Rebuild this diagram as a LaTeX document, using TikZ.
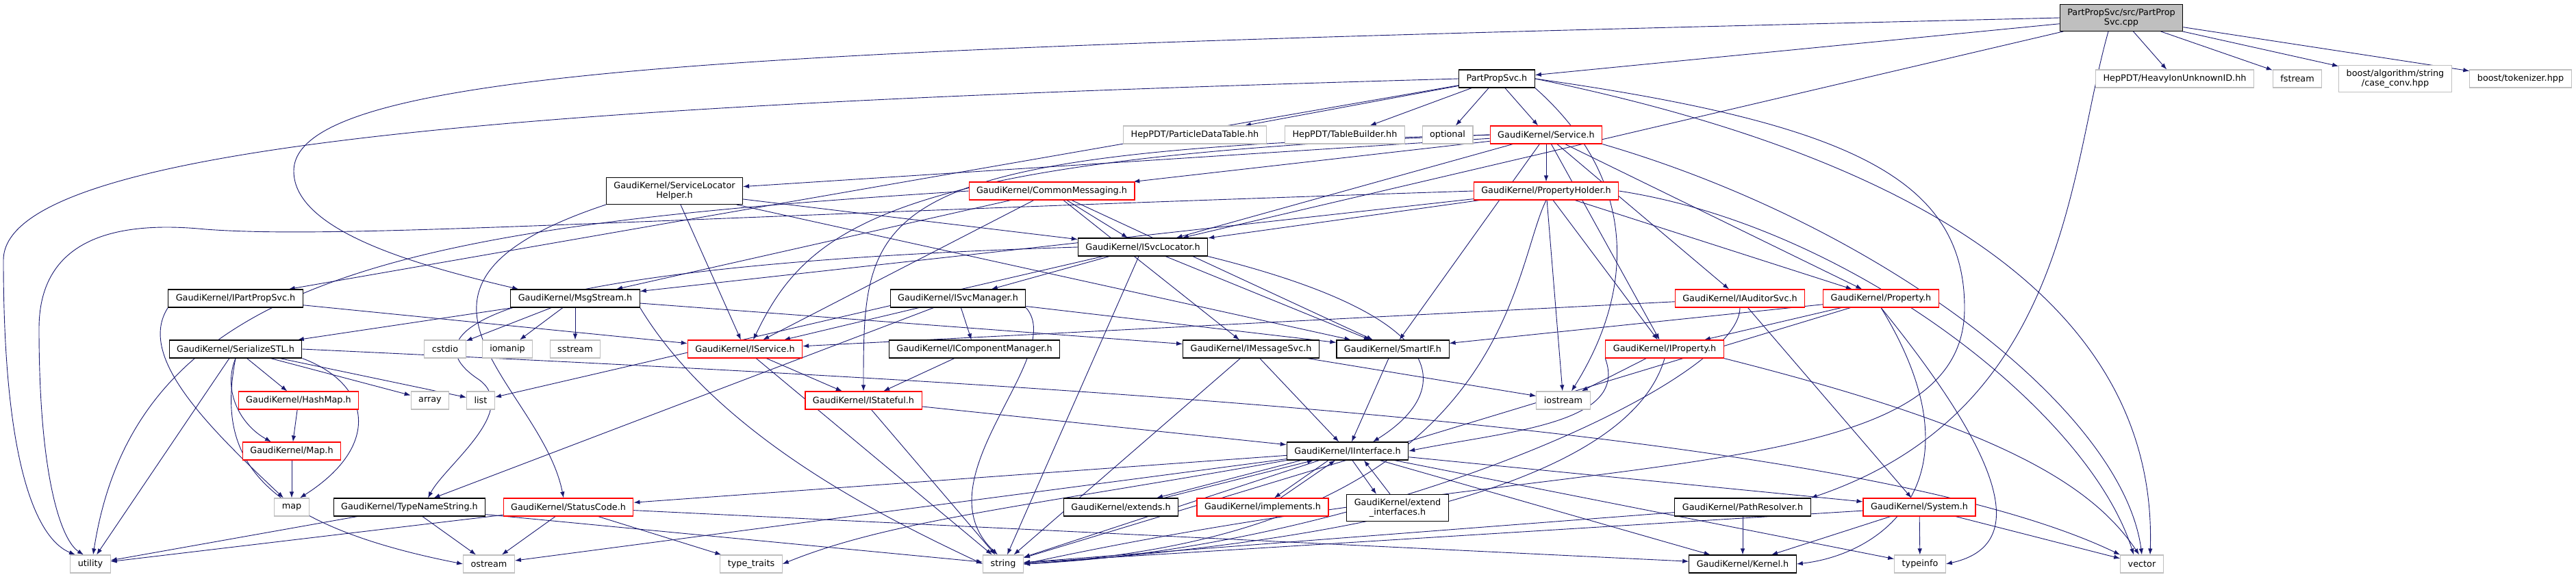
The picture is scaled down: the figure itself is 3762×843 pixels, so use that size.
\documentclass[tikz,border=0pt]{standalone}
\usepackage{fontspec}
\usepackage{tikz}
\usetikzlibrary{calc}
\usetikzlibrary{shapes,arrows.meta}
\newfontfamily\dotfont{DejaVu Sans}
\definecolor{edgeblue}{HTML}{191970}
\definecolor{sysgray}{HTML}{BFBFBF}
\pgfdeclarelayer{edges}
\pgfsetlayers{edges,main}

\begin{document}
\begin{tikzpicture}[x=1pt,y=-1pt]
     \tikzstyle{every node}=[font=\dotfont\fontsize{12.8pt}{14.5pt}\selectfont]
     \tikzstyle{filebox}=[draw=black, fill=white, line width=1.1pt, minimum height=26pt, inner xsep=11pt, inner ysep=6pt, align=center]
     \tikzstyle{redbox}=[filebox, draw=red]
     \tikzstyle{sysbox}=[filebox, draw=sysgray]
     \tikzstyle{rootbox}=[filebox, fill=sysgray]
     \tikzstyle{edge}=[draw=edgeblue, line width=0.9pt, -{Latex[length=9pt,width=6.5pt]}]
      \useasboundingbox (0,0) rectangle (3762,843);
      \node[rootbox] (cpp) at (3098,26) {PartPropSvc/src/PartProp\\Svc.cpp};
      \node[filebox] (pps) at (2186,115) {PartPropSvc.h};
      \node[sysbox] (heavy) at (3176,115) {HepPDT/HeavyIonUnknownID.hh};
      \node[sysbox] (fstream) at (3355,115) {fstream};
      \node[sysbox] (caseconv) at (3498,115) {boost/algorithm/string\\/case\_conv.hpp};
      \node[sysbox] (tokenizer) at (3681,115) {boost/tokenizer.hpp};
      \node[sysbox] (pdt) at (1745,197) {HepPDT/ParticleDataTable.hh};
      \node[sysbox] (tblbuilder) at (1964,197) {HepPDT/TableBuilder.hh};
      \node[sysbox] (optional) at (2114,197) {optional};
      \node[redbox] (service) at (2258,197) {GaudiKernel/Service.h};
      \node[filebox] (slh) at (985,279) {GaudiKernel/ServiceLocator\\Helper.h};
      \node[redbox] (cmsg) at (1536,279) {GaudiKernel/CommonMessaging.h};
      \node[redbox] (pholder) at (2258,279) {GaudiKernel/PropertyHolder.h};
      \node[filebox] (isvcloc) at (1669,361) {GaudiKernel/ISvcLocator.h};
      \node[filebox] (ipps) at (344,436) {GaudiKernel/IPartPropSvc.h};
      \node[filebox] (msgstream) at (840,436) {GaudiKernel/MsgStream.h};
      \node[filebox] (isvcmgr) at (1399,436) {GaudiKernel/ISvcManager.h};
      \node[redbox] (iauditor) at (2541,436) {GaudiKernel/IAuditorSvc.h};
      \node[redbox] (property) at (2747,436) {GaudiKernel/Property.h};
      \node[filebox] (serialize) at (344,510) {GaudiKernel/SerializeSTL.h};
      \node[sysbox] (cstdio) at (650,510) {cstdio};
      \node[sysbox] (iomanip) at (741,510) {iomanip};
      \node[sysbox] (sstream) at (840,510) {sstream};
      \node[redbox] (iservice) at (1088,510) {GaudiKernel/IService.h};
      \node[filebox] (icompmgr) at (1423,510) {GaudiKernel/IComponentManager.h};
      \node[filebox] (imsgsvc) at (1827,510) {GaudiKernel/IMessageSvc.h};
      \node[filebox] (smartif) at (2034,510) {GaudiKernel/SmartIF.h};
      \node[redbox] (iproperty) at (2431,510) {GaudiKernel/IProperty.h};
      \node[redbox] (hashmap) at (436,585) {GaudiKernel/HashMap.h};
      \node[sysbox] (array) at (628,585) {array};
      \node[sysbox] (list) at (702,585) {list};
      \node[redbox] (istateful) at (1261,585) {GaudiKernel/IStateful.h};
      \node[sysbox] (iostream) at (2283,585) {iostream};
      \node[redbox] (gkmap) at (426,659) {GaudiKernel/Map.h};
      \node[filebox] (iinterface) at (1968,659) {GaudiKernel/IInterface.h};
      \node[sysbox] (map) at (426,741) {map};
      \node[filebox] (typename) at (598,741) {GaudiKernel/TypeNameString.h};
      \node[redbox] (statuscode) at (830,741) {GaudiKernel/StatusCode.h};
      \node[filebox] (extends) at (1637,741) {GaudiKernel/extends.h};
      \node[redbox] (implements) at (1844,741) {GaudiKernel/implements.h};
      \node[filebox] (extendif) at (2041,742) {GaudiKernel/extend\\\_interfaces.h};
      \node[filebox] (pathres) at (2545,741) {GaudiKernel/PathResolver.h};
      \node[redbox] (system) at (2803,741) {GaudiKernel/System.h};
      \node[sysbox] (utility) at (132,824) {utility};
      \node[sysbox] (ostream) at (714,824) {ostream};
      \node[sysbox] (typetraits) at (1097,824) {type\_traits};
      \node[sysbox] (string) at (1465,824) {string};
      \node[filebox] (kernel) at (2545,824) {GaudiKernel/Kernel.h};
      \node[sysbox] (typeinfo) at (2804,824) {typeinfo};
      \node[sysbox] (vector) at (3128,824) {vector};

    \begin{pgfonlayer}{edges}
      \draw[edge] (cpp) -- (pps);
      \draw[edge] (cpp) -- (heavy);
      \draw[edge] (cpp) -- (fstream);
      \draw[edge] (cpp) -- (caseconv);
      \draw[edge] (cpp) -- (tokenizer);
      \draw[edge] (cpp.west) .. controls (1200,70) and (429,90) .. (429,250) .. controls (429,340) and (620,390) .. ([xshift=12pt]msgstream.north west);
      \draw[edge] (cpp) -- (isvcloc);
      \draw[edge] ([xshift=-19pt]cpp.south) .. controls (3021,250) and (3021,600) .. (pathres.north east);

      \draw[edge] (pps) -- (ipps);
      \draw[edge] (pps.west) .. controls (900,150) and (5,200) .. (5,380) .. controls (5,700) and (60,790) .. ([xshift=-22pt]utility.north);
      \draw[edge] (pps) -- (pdt);
      \draw[edge] (pps) -- (tblbuilder);
      \draw[edge] (pps) -- (optional);
      \draw[edge] (pps) -- (service);
      \draw[edge] (pps.south east) .. controls (2390,260) and (2390,420) .. ([xshift=12pt]iostream.north);
      \draw[edge] (pps.east) .. controls (2700,180) and (2869,260) .. (2869,450) .. controls (2869,720) and (2300,650) .. (string.east);
      \draw[edge] (pps.east) .. controls (2900,250) and (3150,500) .. ([xshift=12pt]vector.north);

      \draw[edge] (service) -- (slh);
      \draw[edge] (service) -- (cmsg);
      \draw[edge] (service) -- (pholder);
      \draw[edge] (service) -- (isvcloc);
      \draw[edge] (service.west) .. controls (1300,230) and (1180,330) .. ([xshift=12pt]iservice.north);
      \draw[edge] (service.west) .. controls (1261,220) and (1261,300) .. (istateful.north);
      \draw[edge] (service) -- (iauditor);
      \draw[edge] (service) -- (iproperty);
      \draw[edge] (service) -- (property);
      \draw[edge] (service) -- (smartif);
      \draw[edge] (service.south east) .. controls (2750,330) and (3100,600) .. (vector.north);

      \draw[edge] (pholder) -- (isvcloc);
      \draw[edge] (pholder) -- (msgstream);
      \draw[edge] (pholder.west) .. controls (900,320) and (500,350) .. (300,335) .. controls (150,320) and (57,360) .. (57,480) .. controls (57,700) and (90,790) .. ([xshift=-10pt]utility.north);
      \draw[edge] (pholder.south) .. controls (2205,400) and (2205,780) .. (string.east);
      \draw[edge] (pholder) -- (iostream);
      \draw[edge] (pholder) -- (iproperty);
      \draw[edge] (pholder) -- (property);
      \draw[edge] (pholder.east) .. controls (2700,330) and (3050,600) .. ([xshift=-12pt]vector.north);

      \draw[edge] (cmsg) -- (msgstream);
      \draw[edge] (cmsg.west) .. controls (600,330) and (200,400) .. ([xshift=4pt]utility.north);
      \draw[edge] (cmsg) -- (iservice);
      \draw[edge] (cmsg) -- (imsgsvc);
      \draw[edge] (cmsg) -- (isvcloc);
      \draw[edge] (cmsg) -- (smartif);

      \draw[edge] (slh) -- (isvcloc);
      \draw[edge] (slh) -- (iservice);
      \draw[edge] (slh) -- (smartif);
      \draw[edge] (slh.south west) .. controls (520,420) and (790,560) .. ([xshift=-7pt]statuscode.north);

      \draw[edge] (isvcloc) -- (isvcmgr);
      \draw[edge] (isvcloc) -- (smartif);
      \draw[edge] (isvcloc) -- (string);
      \draw[edge] (isvcloc.south east) .. controls (2150,470) and (2110,580) .. ([xshift=37pt]iinterface.north);
      \draw[edge] (isvcloc) -- (list);
      \draw[edge] (isvcloc.west) .. controls (800,385) and (570,470) .. (700,555) .. controls (760,600) and (650,680) .. ([xshift=27pt]typename.north);

      \draw[edge] (isvcmgr) -- (iservice);
      \draw[edge] (isvcmgr) -- (icompmgr);
      \draw[edge] (isvcmgr) -- (smartif);
      \draw[edge] (isvcmgr) -- (typename);
      \draw[edge] (isvcmgr.south east) .. controls (1560,520) and (1340,700) .. ([xshift=-8pt]string.north);

      \draw[edge] (ipps.south west) .. controls (200,520) and (300,620) .. ([xshift=-12pt]map.north);
      \draw[edge] (ipps) -- (iservice);

      \draw[edge] (msgstream) -- (serialize);
      \draw[edge] (msgstream) -- (cstdio);
      \draw[edge] (msgstream) -- (iomanip);
      \draw[edge] (msgstream) -- (sstream);
      \draw[edge] (msgstream.south east) .. controls (1050,640) and (1300,760) .. (string.west);
      \draw[edge] (msgstream) -- (imsgsvc);

      \draw[edge] (serialize) -- (hashmap);
      \draw[edge] (serialize) -- (array);
      \draw[edge] (serialize) -- (list);
      \draw[edge] (serialize) -- (utility);
      \draw[edge] (serialize.south) .. controls (325,570) and (350,620) .. ([xshift=-30pt]gkmap.north);
      \draw[edge] (serialize.south east) .. controls (540,560) and (560,650) .. ([xshift=12pt]map.north);
      \draw[edge] (serialize.south) .. controls (320,650) and (350,760) .. (ostream.west);
      \draw[edge] (serialize.east) .. controls (1500,560) and (2700,620) .. (vector.north west);

      \draw[edge] (hashmap) -- (gkmap);
      \draw[edge] (gkmap) -- (map);

      \draw[edge] (iservice) -- (istateful);
      \draw[edge] (iservice) -- (string);
      \draw[edge] (istateful) -- (iinterface);
      \draw[edge] (istateful) -- (string);
      \draw[edge] (icompmgr) -- (istateful);
      \draw[edge] (imsgsvc) -- (iinterface);
      \draw[edge] (imsgsvc) -- (string);
      \draw[edge] (imsgsvc) -- (iostream);
      \draw[edge] (smartif) -- (iinterface);

      \draw[edge] (iauditor) -- (iservice);
      \draw[edge] (iauditor) -- (system);
      \draw[edge] (iauditor.south) .. controls (2541,560) and (2000,800) .. (string.east);

      \draw[edge] (property) -- (smartif);
      \draw[edge] (property) -- (iproperty);
      \draw[edge] (property) -- (string);
      \draw[edge] (property.south) .. controls (2900,700) and (2750,810) .. (kernel.east);
      \draw[edge] (property.south) .. controls (2950,700) and (2950,800) .. (typeinfo.east);

      \draw[edge] (iproperty) -- (iostream);
      \draw[edge] (iproperty.south west) .. controls (2380,620) and (2200,630) .. (iinterface.east);
      \draw[edge] (iproperty.south) .. controls (2380,700) and (2000,790) .. (string.east);
      \draw[edge] (iproperty.south east) .. controls (2900,620) and (3050,700) .. ([xshift=-4pt]vector.north);

      \draw[edge] (iinterface) -- (statuscode);
      \draw[edge] (iinterface) -- (ostream);
      \draw[edge] (iinterface.south west) .. controls (1500,740) and (1300,760) .. (typetraits.east);
      \draw[edge] (iinterface) -- (string);
      \draw[edge] (iinterface) -- (kernel);
      \draw[edge] (iinterface) -- (system);
      \draw[edge] (iinterface) -- (typeinfo);
      \draw[edge] ([xshift=-68pt]iinterface.south) -- ([xshift=52pt]extends.north);
      \draw[edge] ([xshift=63pt]extends.north) -- ([xshift=-50pt]iinterface.south);
      \draw[edge] ([xshift=-28pt]iinterface.south) -- ([xshift=17pt]implements.north);
      \draw[edge] ([xshift=26pt]implements.north) -- ([xshift=-18pt]iinterface.south);
      \draw[edge] ([xshift=7pt]iinterface.south) -- ([xshift=-31pt]extendif.north);
      \draw[edge] ([xshift=-11pt]extendif.north) -- ([xshift=24pt]iinterface.south);

      \draw[edge] (pathres) -- (string);
      \draw[edge] (pathres) -- (kernel);
      \draw[edge] (system) -- (kernel);
      \draw[edge] (system) -- (typeinfo);
      \draw[edge] (system) -- (vector);
      \draw[edge] (system) -- (string);
      \draw[edge] (typename) -- (utility);
      \draw[edge] (typename) -- (ostream);
      \draw[edge] (typename) -- (string);
      \draw[edge] (statuscode) -- (utility);
      \draw[edge] (statuscode) -- (ostream);
      \draw[edge] (statuscode) -- (typetraits);
      \draw[edge] (statuscode) -- (kernel);
    \end{pgfonlayer}
    \end{tikzpicture}
\end{document}
